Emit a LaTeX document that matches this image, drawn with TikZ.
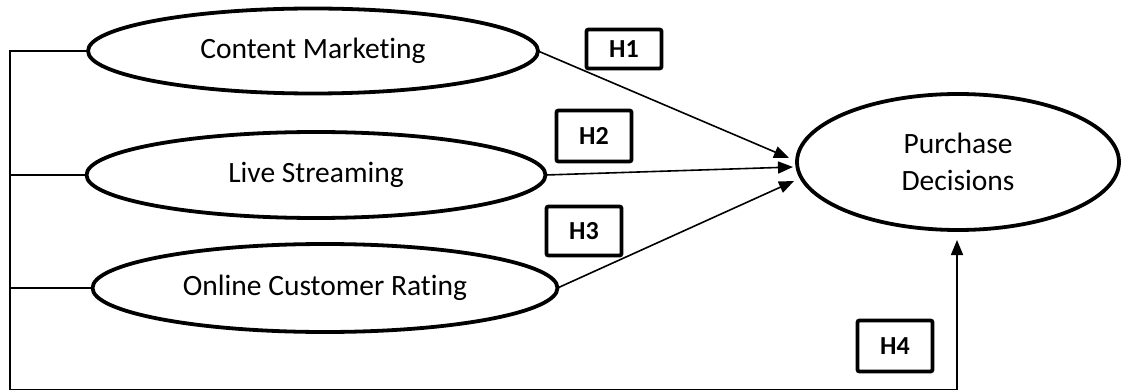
\documentclass[tikz,border=0pt]{standalone}
\usepackage{fontspec}
\setmainfont{Carlito}[Ligatures=NoCommon]
\usetikzlibrary{shapes.geometric,arrows.meta}
\begin{document}
\begin{tikzpicture}[x=1pt,y=-1pt,
  construct/.style={ellipse,draw,line width=3.8pt,inner sep=0pt,outer sep=0pt,
    font=\fontsize{29.5}{37}\selectfont},
  hyp/.style={draw,line width=3.8pt,rounded corners=2pt,inner sep=0pt,outer sep=0pt,
    font=\bfseries\fontsize{26}{30}\selectfont},
  link/.style={line width=1.7pt},
  effect/.style={line width=1.6pt,-{Triangle[length=15pt,width=12pt]}}]
\useasboundingbox (0,0) rectangle (1121,390);

% latent constructs
\node[construct,minimum width=450pt,minimum height=85pt] (cm) at (313,51) {Content Marketing};
\node[construct,minimum width=459pt,minimum height=86pt] (ls) at (316,175) {Live Streaming};
\node[construct,minimum width=465pt,minimum height=88pt] (ocr) at (325,288) {Online Customer Rating};
\node[construct,minimum width=322pt,minimum height=136pt,align=center] (pd) at (958,162) {Purchase\\Decisions};

% hypothesis labels
\node[hyp,minimum width=75pt,minimum height=39pt] (h1) at (624,49) {H1};
\node[hyp,minimum width=75pt,minimum height=51pt] (h2) at (594,136) {H2};
\node[hyp,minimum width=75pt,minimum height=49pt] (h3) at (584,231) {H3};
\node[hyp,minimum width=75pt,minimum height=51pt] (h4) at (895,346) {H4};

% arrow tips on the dependent construct
\coordinate (t1) at (789,158);
\coordinate (t2) at (793,167);
\coordinate (t3) at (794,181);
\coordinate (t4) at (957,240);

% direct effects
\draw[effect] (cm.east) -- (t1);
\draw[effect] (ls.east) -- (t2);
\draw[effect] (ocr.east) -- (t3);

% joint effect bus
\coordinate (bl) at (10,390);
\coordinate (br) at (957,390);
\draw[link] (cm.west) -| (bl);
\draw[link] (ls.west) -- (ls.west -| bl);
\draw[link] (ocr.west) -- (ocr.west -| bl);
\draw[effect] (bl) -- (br) -- (t4);
\end{tikzpicture}
\end{document}
